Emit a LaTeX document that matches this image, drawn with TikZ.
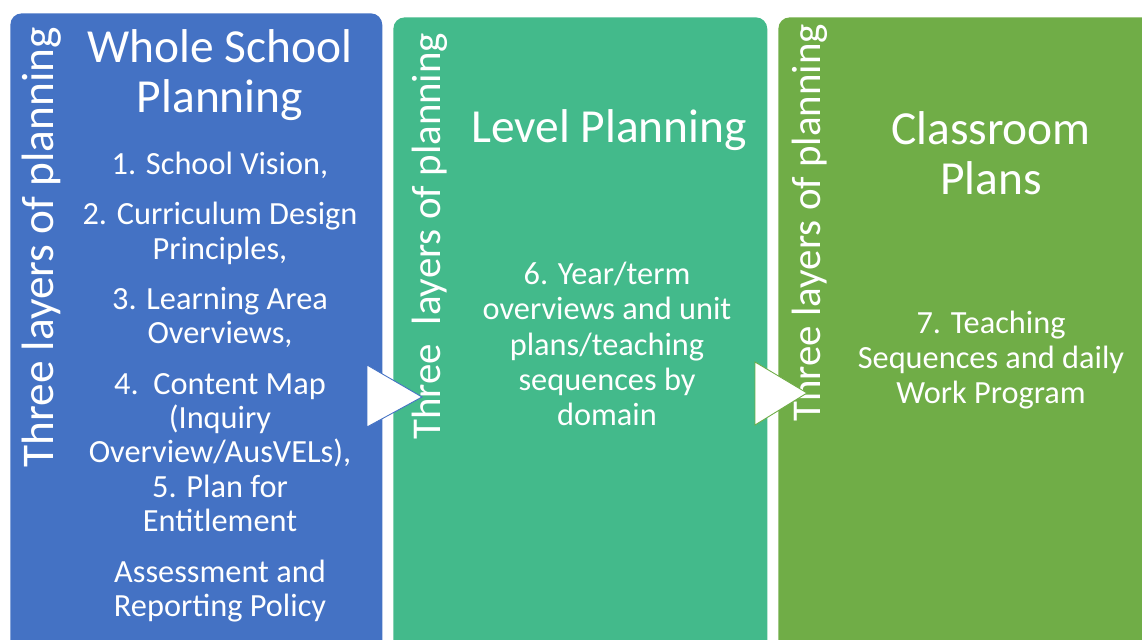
\documentclass[tikz,border=0pt]{standalone}
\usepackage{fontspec}
\setmainfont{Carlito}
\definecolor{wsblue}{HTML}{4472C4}
\definecolor{lvteal}{HTML}{43BA8B}
\definecolor{clgreen}{HTML}{70AD47}

\begin{document}
\begin{tikzpicture}[x=0.02cm,y=-0.02cm,
  panel/.style={rectangle, rounded corners=6.5pt, anchor=north west, inner sep=0pt},
  sidetxt/.style={rotate=90, anchor=base west, inner sep=0pt, text=white, font=\fontsize{23.3}{26}\selectfont},
  title/.style={align=center, inner sep=0pt, text=white, font=\fontsize{27}{28.3}\selectfont},
  body/.style={align=center, inner sep=0pt, text=white, font=\fontsize{18.4}{19.8}\selectfont},
  chevron/.style={fill=white, line width=0.5pt}]
\useasboundingbox (0,0) rectangle (1142,639);
\clip (0,0) rectangle (1142,639);
% the three planning panels
\node[panel, fill=wsblue, minimum width=7.44cm, minimum height=12.94cm] (whole) at (10,13) {};
\node[panel, fill=lvteal, minimum width=7.48cm, minimum height=12.86cm] (level) at (393,17) {};
\node[panel, fill=clgreen, minimum width=7.70cm, minimum height=12.86cm] (class) at (778,17) {};

\node[sidetxt, font=\fontsize{25.8}{28}\selectfont] (side1) at (53,468) {Three layers of planning};
\node[sidetxt] (side2) at (440,440) {Three\hspace{0.45em}layers of planning};
\node[sidetxt] (side3) at (820,422) {Three layers of planning};

\node[title] (t1) at (220,75) {Whole School\\Planning};
\node[title] (t2) at (609,130) {Level Planning};
\node[title] (t3) at (991,153) {Classroom\\Plans};

\node[body, font=\fontsize{18.4}{19.6}\selectfont] (b1) at (220,387) {1. School Vision,\\[9pt]
  2. Curriculum Design\\Principles,\\[9pt]
  3. Learning Area\\Overviews,\\[9pt]
  4.\ \ Content Map\\(Inquiry\\Overview/AusVELs),\\5. Plan for\\Entitlement\\[9pt]
  Assessment and\\Reporting Policy};
\node[body, font=\fontsize{18.4}{20.1}\selectfont] (b2) at (607,344) {6. Year/term\\overviews and unit\\plans/teaching\\sequences by\\domain};
\node[body] (b3) at (991,360) {7. Teaching\\Sequences and daily\\Work Program};

% arrows between the panels
\filldraw[chevron, draw=wsblue] (367,365) -- (422,397) -- (367,427) -- cycle;
\filldraw[chevron, draw=clgreen] (755,362) -- (807,393) -- (755,425) -- cycle;
\end{tikzpicture}
\end{document}
